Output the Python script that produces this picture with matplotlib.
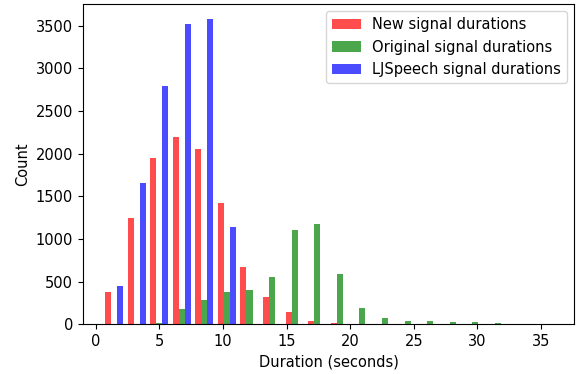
import numpy as np
import matplotlib
matplotlib.use("Agg")
import matplotlib.pyplot as plt

plt.rcParams["font.size"] = 10.5

# 20 bins shared by all three sets
bin_edges = np.linspace(0.55, 36.05, 21)

new_counts = [383, 1245, 1954, 2200, 2056, 1422, 677, 317, 141, 39,
              20, 0, 0, 0, 0, 0, 0, 0, 0, 0]
orig_counts = [0, 0, 15, 176, 282, 383, 403, 556, 1108, 1175,
               587, 195, 74, 39, 36, 23, 23, 20, 0, 0]
lj_counts = [454, 1660, 2800, 3525, 3576, 1140, 0, 0, 0, 0,
             0, 0, 0, 0, 0, 0, 0, 0, 0, 0]

labels = ["New signal durations", "Original signal durations",
          "LJSpeech signal durations"]
colors = ["r", "g", "b"]

centers = (bin_edges[:-1] + bin_edges[1:]) / 2

fig = plt.figure(figsize=(5.82, 3.74), dpi=100)
ax = fig.add_axes([0.142, 0.133, 0.845, 0.856])

ax.hist([centers, centers, centers], bins=bin_edges,
        weights=[new_counts, orig_counts, lj_counts],
        color=colors, alpha=0.7, label=labels)

ax.set_xlabel("Duration (seconds)")
ax.set_ylabel("Count")
ax.legend(loc="upper right")

fig.savefig("out.png", dpi=100)
